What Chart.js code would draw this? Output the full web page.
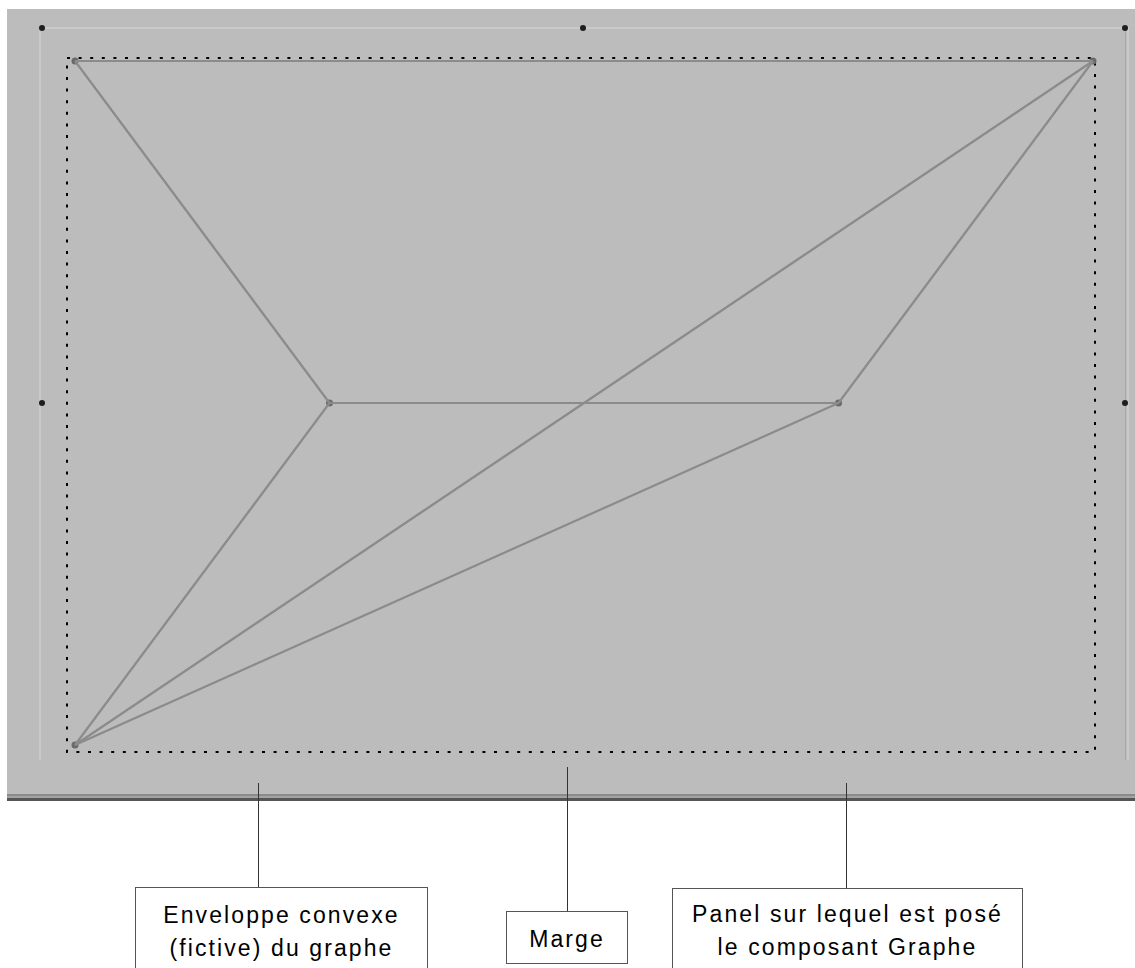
<!DOCTYPE html>
<html>
<head>
<meta charset="utf-8">
<title>Graphe</title>
<script src="https://cdn.jsdelivr.net/npm/chart.js"></script>
<style>
  body { margin: 0; background: #fff; }
  #wrap { position: relative; width: 1135px; height: 968px; overflow: hidden; }
  #canvas { position: absolute; left: 0; top: 0; }
  .note {
    position: absolute; box-sizing: border-box; background: #fff;
    border: 1px solid #555; font-family: "Liberation Sans", Arial, sans-serif;
    font-size: 23px; letter-spacing: 2.1px; line-height: 33px; color: #000;
    text-align: center;
  }
</style>
</head>
<body>
<div id="wrap">
  <canvas id="canvas" width="1135" height="968"></canvas>
</div>
<script>
// noeuds du graphe (coordonnees dans l'enveloppe, 0..1)
var nodeX = [0, 1, 0.25, 0.75, 0];
var nodeY = [1, 1, 0.5, 0.5, 0];
// aretes : paires d'indices de noeuds
var edgeFrom = [0, 0, 2, 2, 3, 3, 4];
var edgeTo   = [1, 2, 3, 4, 1, 4, 1];
// legendes
var noteLines = [
  ["Enveloppe convexe", "(fictive) du graphe"],
  ["Marge"],
  ["Panel sur lequel est posé", "le composant Graphe"]
];
var noteBox = [
  {x: 135, y: 887, w: 293, h: 100, pad: 11, lineX: 258, lineTop: 783},
  {x: 506, y: 911, w: 122, h: 53, pad: 11, lineX: 567, lineTop: 767},
  {x: 672, y: 888, w: 351, h: 100, pad: 9, lineX: 846, lineTop: 783}
];

var wrap = document.getElementById('wrap');
noteLines.forEach(function (lines, i) {
  var b = noteBox[i];
  var d = document.createElement('div');
  d.className = 'note';
  d.style.left = b.x + 'px';
  d.style.top = b.y + 'px';
  d.style.width = b.w + 'px';
  d.style.height = b.h + 'px';
  d.style.paddingTop = b.pad + 'px';
  d.innerHTML = lines.join('<br>');
  wrap.appendChild(d);
});

var datasets = [];
for (var i = 0; i < edgeFrom.length; i++) {
  datasets.push({
    data: [{x: nodeX[edgeFrom[i]], y: nodeY[edgeFrom[i]]}, {x: nodeX[edgeTo[i]], y: nodeY[edgeTo[i]]}],
    showLine: true,
    borderColor: '#8b8b8b',
    borderWidth: 2.2,
    pointRadius: 0,
    clip: false
  });
}
datasets.push({
  data: nodeX.map(function (x, k) { return {x: x, y: nodeY[k]}; }),
  pointRadius: 3.5,
  backgroundColor: '#6a6a6a',
  borderWidth: 0,
  clip: false
});

// le panel, les poignees, la marge et les traits de rappel
var decor = {
  id: 'decor',
  beforeDraw: function (chart) {
    var c = chart.ctx, a = chart.chartArea;
    c.save();
    c.fillStyle = '#fff';
    c.fillRect(0, 0, chart.width, chart.height);
    c.fillStyle = '#bcbcbc';
    c.fillRect(7, 9, 1128, 786);
    // relief interieur
    c.fillStyle = '#c9c9c9';
    c.fillRect(40, 27, 1088, 2);
    c.fillRect(39, 27, 2, 733);
    c.fillStyle = '#cacaca';
    c.fillRect(1127, 27, 2, 733);
    c.fillStyle = '#a9a9a9';
    c.fillRect(1125, 27, 1, 733);
    // bord inferieur
    c.fillStyle = '#8a8a8a';
    c.fillRect(7, 794, 1128, 2);
    c.fillStyle = '#a3a3a3';
    c.fillRect(7, 796, 1128, 2);
    c.fillStyle = '#555';
    c.fillRect(7, 798, 1128, 3);
    // poignees
    c.fillStyle = '#1e1e1e';
    [[42, 28], [583, 28], [1125, 28], [42, 403], [1125, 403]].forEach(function (p) {
      c.beginPath();
      c.arc(p[0], p[1], 3, 0, Math.PI * 2);
      c.fill();
    });
    // marge en pointilles
    c.strokeStyle = '#000';
    c.lineWidth = 2;
    c.setLineDash([3, 8.6]);
    c.strokeRect(a.left - 8, a.top - 3, a.width + 10, a.height + 10);
    c.setLineDash([]);
    // traits de rappel
    c.strokeStyle = '#333';
    c.lineWidth = 1;
    noteBox.forEach(function (b) {
      c.beginPath();
      c.moveTo(b.lineX + 0.5, b.lineTop);
      c.lineTo(b.lineX + 0.5, b.y);
      c.stroke();
    });
    c.restore();
  }
};

new Chart(document.getElementById('canvas').getContext('2d'), {
  type: 'scatter',
  data: {datasets: datasets},
  options: {
    responsive: false,
    devicePixelRatio: 1,
    animation: false,
    layout: {padding: {left: 75, right: 42, top: 61, bottom: 223}},
    scales: {
      x: {type: 'linear', min: 0, max: 1, display: false},
      y: {type: 'linear', min: 0, max: 1, display: false}
    },
    plugins: {legend: {display: false}, tooltip: {enabled: false}}
  },
  plugins: [decor]
});
</script>
</body>
</html>
